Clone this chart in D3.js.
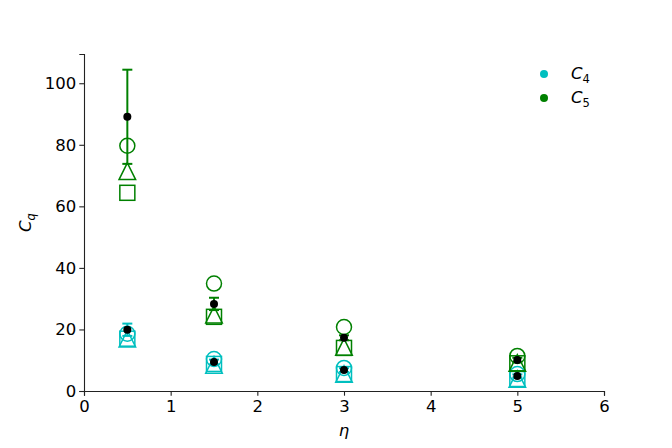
<!DOCTYPE html>
<html>
<head>
<meta charset="utf-8">
<script src="https://cdn.jsdelivr.net/npm/d3@7"></script>
<style>
  body { margin: 0; background: #fff; }
  svg text { font-family: "DejaVu Sans", sans-serif; }
</style>
</head>
<body>
<div id="chart"></div>
<script>
// eta positions
var etas = [0.5, 1.5, 3, 5];

// C4 series (cyan)
var c4Mean = [19.9, 9.4, 6.8, 4.9];
var c4Err = [2.0, 0.8, 0.6, 0.5];
var c4Circle = [18.6, 10.4, 7.5, 5.5];
var c4Triangle = [17.0, 8.5, 5.5, 3.9];
var c4Square = [17.0, 8.8, 5.5, 3.9];

// C5 series (green)
var c5Mean = [89.1, 28.3, 17.3, 10.1];
var c5Err = [15.3, 2.0, 0.8, 0.7];
var c5Circle = [79.7, 34.9, 20.8, 11.4];
var c5Triangle = [71.4, 24.8, 14.3, 9.1];
var c5Square = [64.4, 24.1, 14.0, 9.0];

var xTicks = [0, 1, 2, 3, 4, 5, 6];
var yTicks = [0, 20, 40, 60, 80, 100];

var series = [
  {name: "4", color: "#00bfbf", mean: c4Mean, err: c4Err, circle: c4Circle, tri: c4Triangle, sq: c4Square},
  {name: "5", color: "#008000", mean: c5Mean, err: c5Err, circle: c5Circle, tri: c5Triangle, sq: c5Square}
];

var W = 672, H = 448;
var margin = {top: 54, right: 68, bottom: 57, left: 84};
var fs = "16.5px", fsSub = "11.5px";

var svg = d3.select("#chart").append("svg")
  .attr("width", W).attr("height", H);

var x = d3.scaleLinear().domain([0, 6]).range([margin.left, W - margin.right]);
var y = d3.scaleLinear().domain([0, 109.5]).range([H - margin.bottom, margin.top]);

// axes
var xAxis = d3.axisBottom(x).tickValues(xTicks).tickFormat(d3.format("d")).tickSize(4.7).tickPadding(5);
var yAxis = d3.axisLeft(y).tickValues(yTicks).tickFormat(d3.format("d")).tickSize(4.7).tickPadding(3);

svg.append("g").attr("transform", "translate(0," + (H - margin.bottom) + ")").call(xAxis);
svg.append("g").attr("transform", "translate(" + margin.left + ",0)").call(yAxis);

svg.selectAll(".domain").attr("stroke", "#222").attr("stroke-width", 1.1);
svg.selectAll(".tick line").attr("stroke", "#222").attr("stroke-width", 1.1);
svg.selectAll(".tick text").attr("font-size", fs).attr("fill", "#000")
  .attr("font-family", "DejaVu Sans, sans-serif");

// axis labels
svg.append("text")
  .attr("x", x(3)).attr("y", 436)
  .attr("text-anchor", "middle")
  .attr("font-size", fs).attr("font-style", "italic")
  .text("η");

var yl = svg.append("text")
  .attr("transform", "translate(31," + y(54.7) + ") rotate(-90)")
  .attr("text-anchor", "middle")
  .attr("font-size", fs).attr("font-style", "italic");
yl.append("tspan").text("C");
yl.append("tspan").attr("font-size", fsSub).attr("dy", 3.5).text("q");

var plot = svg.append("g");

var triPath = function(cx, cy, s) {
  return "M" + cx + "," + (cy - s) + "L" + (cx - s) + "," + (cy + s) + "L" + (cx + s) + "," + (cy + s) + "Z";
};

series.forEach(function(s) {
  var g = plot.append("g");
  // squares
  g.selectAll("rect.sq").data(s.sq).enter().append("rect")
    .attr("x", function(d, i) { return x(etas[i]) - 7.5; })
    .attr("y", function(d) { return y(d) - 7.5; })
    .attr("width", 15).attr("height", 15)
    .attr("fill", "none").attr("stroke", s.color).attr("stroke-width", 1.5);
  // triangles
  g.selectAll("path.tri").data(s.tri).enter().append("path")
    .attr("d", function(d, i) { return triPath(x(etas[i]), y(d), 8.3); })
    .attr("fill", "none").attr("stroke", s.color).attr("stroke-width", 1.5)
    .attr("stroke-linejoin", "miter");
  // circles
  g.selectAll("circle.ci").data(s.circle).enter().append("circle")
    .attr("cx", function(d, i) { return x(etas[i]); })
    .attr("cy", function(d) { return y(d); })
    .attr("r", 7.5)
    .attr("fill", "none").attr("stroke", s.color).attr("stroke-width", 1.5);
});

// error bars and mean dots
series.forEach(function(s) {
  var g = plot.append("g");
  s.mean.forEach(function(m, i) {
    var cx = x(etas[i]), lo = y(m - s.err[i]), hi = y(m + s.err[i]);
    g.append("line").attr("x1", cx).attr("x2", cx).attr("y1", lo).attr("y2", hi)
      .attr("stroke", s.color).attr("stroke-width", 2);
    [lo, hi].forEach(function(yy) {
      g.append("line").attr("x1", cx - 5).attr("x2", cx + 5).attr("y1", yy).attr("y2", yy)
        .attr("stroke", s.color).attr("stroke-width", 2);
    });
  });
  g.selectAll("circle.m").data(s.mean).enter().append("circle")
    .attr("cx", function(d, i) { return x(etas[i]); })
    .attr("cy", function(d) { return y(d); })
    .attr("r", 4).attr("fill", "#000");
});

// legend
var leg = svg.append("g");
series.forEach(function(s, i) {
  var ly = 74 + i * 24;
  leg.append("circle").attr("cx", 544).attr("cy", ly).attr("r", 4).attr("fill", s.color);
  var t = leg.append("text").attr("x", 571).attr("y", ly + 5)
    .attr("font-size", fs);
  t.append("tspan").attr("font-style", "italic").text("C");
  t.append("tspan").attr("font-size", fsSub).attr("dy", 3.5).text(s.name);
});
</script>
</body>
</html>
